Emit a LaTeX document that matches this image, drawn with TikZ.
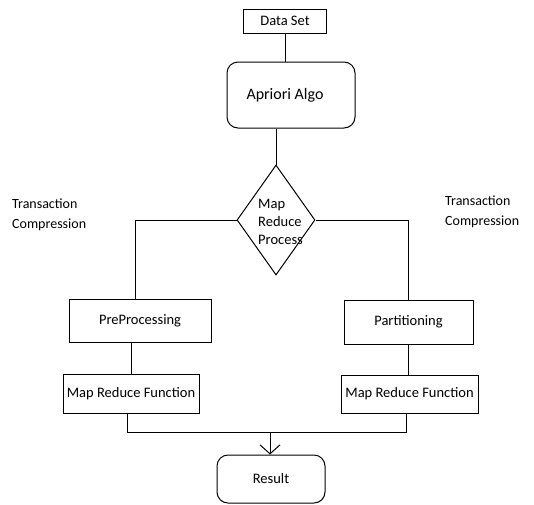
\documentclass[tikz,border=0pt]{standalone}
\usepackage{fontspec}
\setmainfont{Carlito}
\usetikzlibrary{shapes.geometric,arrows.meta}
\begin{document}
\begin{tikzpicture}[x=1pt,y=-1pt,
  every node/.style={font=\fontsize{14.5}{18}\selectfont},
  box/.style={draw,line width=1pt,inner sep=0pt},
  roundbox/.style={box,rounded corners=11pt},
  decision/.style={draw,line width=1pt,diamond,inner sep=0pt,minimum width=78pt,minimum height=110pt},
  link/.style={line width=1pt},
  plain/.style={align=left,inner sep=0pt,anchor=west,font=\fontsize{14}{20}\selectfont}]
\useasboundingbox (0,0) rectangle (534,504);

% main column
\node[box,minimum width=83pt,minimum height=24pt] (ds) at (285,21) {Data Set};
\node[roundbox,minimum width=128pt,minimum height=66pt] (apr) at (291,95) {};
\node[inner sep=0pt,font=\fontsize{16}{18}\selectfont] (aprtext) at (285,95) {Apriori Algo};
\node[decision] (dia) at (276,220) {};
\node[align=left,inner sep=0pt,anchor=west] (diatext) at (258,222) {Map\\Reduce\\Process};

% side labels
\node[plain] (lbl) at (12,215) {Transaction\\Compression};
\node[plain] (lbr) at (445,212) {Transaction\\Compression};

% branches
\node[box,minimum width=142pt,minimum height=43pt] (pre) at (140,320.5) {PreProcessing};
\node[box,minimum width=129pt,minimum height=44pt] (part) at (408.5,322) {Partitioning};
\node[box,minimum width=136pt,minimum height=39pt] (mrfl) at (131,393.5) {Map Reduce Function};
\node[box,minimum width=137pt,minimum height=38pt] (mrfr) at (409.5,394) {Map Reduce Function};
\node[roundbox,minimum width=108pt,minimum height=48pt] (res) at (271,479) {Result};

% join points
\coordinate (jl) at (127,432);
\coordinate (jr) at (406,432);
\coordinate (jm) at (270,432);

% connectors
\draw[link] (ds.south) -- (ds.south |- apr.north);
\draw[link] (dia.north |- apr.south) -- (dia.north);
\draw[link] (dia.west) -| ([xshift=-5pt]pre.north);
\draw[link] (dia.east) -| (part.north);
\draw[link] (mrfl.north |- pre.south) -- (mrfl.north);
\draw[link] (part.south) -- (part.south |- mrfr.north);
\draw[link] (jl |- mrfl.south) -- (jl) -- (jr) -- (jr |- mrfr.south);
\draw[link,-{Straight Barb[length=9pt,width=20pt]}] (jm) -- (jm |- res.north);
\end{tikzpicture}
\end{document}
